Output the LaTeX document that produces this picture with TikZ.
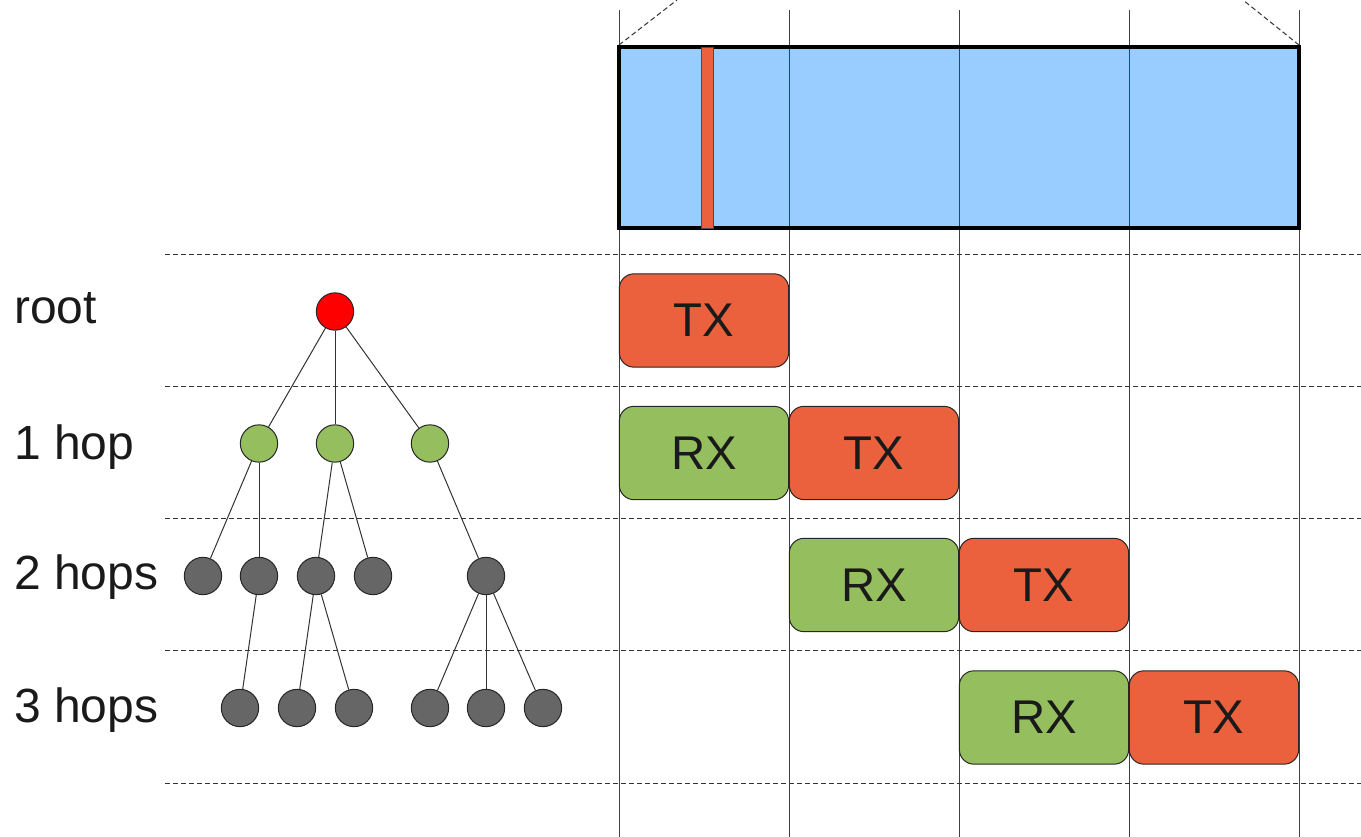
\documentclass[tikz,border=0pt]{standalone}
\usepackage{fontspec}
\setmainfont{Liberation Sans}
\definecolor{txc}{HTML}{EB613D}
\definecolor{rxc}{HTML}{95BE5E}
\definecolor{bluec}{HTML}{99CCFF}
\definecolor{grayn}{HTML}{666666}
\definecolor{txtc}{HTML}{1A1A1A}
\begin{document}
\begin{tikzpicture}[x=0.75pt,y=-0.75pt,
  slot/.style={draw=black!85, line width=0.75pt, rounded corners=11pt, minimum width=127pt, minimum height=70pt, inner sep=0pt, font=\fontsize{35.5}{42}\selectfont, text=txtc},
  txbox/.style={slot, fill=txc},
  rxbox/.style={slot, fill=rxc},
  tnode/.style={circle, draw=black!85, line width=0.75pt, minimum size=28pt, inner sep=0pt},
  rootn/.style={tnode, fill=red},
  hopone/.style={tnode, fill=rxc},
  hopn/.style={tnode, fill=grayn},
  link/.style={draw=black!80, line width=0.75pt},
  sep/.style={draw=black!80, line width=0.75pt, dash pattern=on 3.75pt off 2.25pt},
  vline/.style={draw=black!75, line width=0.75pt},
  lbl/.style={anchor=base west, inner sep=0pt, font=\fontsize{36}{42}\selectfont, text=txtc}
]
\useasboundingbox (0,0) rectangle (1361,837);

% superframe
\fill[bluec] (619,47) rectangle (1299,228);
\foreach \x in {619,789,959,1129,1299}
  \draw[vline] (\x,10) -- (\x,837);
\draw[black, line width=2.4pt] (619,47) rectangle (1299,228);
\draw[draw=black!70, fill=txc, line width=0.6pt] (701,47) rectangle (713,228);
\draw[sep] (619,45) -- (677,0);
\draw[sep] (1299,45) -- (1243,0);

% row separators
\foreach \y in {255,387,519,651,783}
  \draw[sep] (165,\y) -- (1361,\y);

% labels
\node[lbl] (l0) at (14,324) {root};
\node[lbl] (l1) at (14,460) {1 hop};
\node[lbl] (l2) at (14,590) {2 hops};
\node[lbl] (l3) at (14,723) {3 hops};

% slots
\node[txbox] (tx0) at (704,320.5) {TX};
\node[rxbox] (rx1) at (704,453) {RX};
\node[txbox] (tx1) at (874,453) {TX};
\node[rxbox] (rx2) at (874,585) {RX};
\node[txbox] (tx2) at (1044,585) {TX};
\node[rxbox] (rx3) at (1044,717.5) {RX};
\node[txbox] (tx3) at (1214,717.5) {TX};

% tree
\node[rootn] (r) at (335,311.5) {};
\node[hopone] (a1) at (259,443.5) {};
\node[hopone] (a2) at (335,443.5) {};
\node[hopone] (a3) at (430,443.5) {};
\node[hopn] (b1) at (203,576) {};
\node[hopn] (b2) at (259,576) {};
\node[hopn] (b3) at (316,576) {};
\node[hopn] (b4) at (373,576) {};
\node[hopn] (b5) at (486,576) {};
\node[hopn] (c1) at (240,708) {};
\node[hopn] (c2) at (297,708) {};
\node[hopn] (c3) at (354,708) {};
\node[hopn] (c4) at (430,708) {};
\node[hopn] (c5) at (486,708) {};
\node[hopn] (c6) at (543,708) {};

\draw[link] (r) -- (a1);
\draw[link] (r) -- (a2);
\draw[link] (r) -- (a3);
\draw[link] (a1) -- (b1);
\draw[link] (a1) -- (b2);
\draw[link] (a2) -- (b3);
\draw[link] (a2) -- (b4);
\draw[link] (a3) -- (b5);
\draw[link] (b2) -- (c1);
\draw[link] (b3) -- (c2);
\draw[link] (b3) -- (c3);
\draw[link] (b5) -- (c4);
\draw[link] (b5) -- (c5);
\draw[link] (b5) -- (c6);
\end{tikzpicture}
\end{document}
